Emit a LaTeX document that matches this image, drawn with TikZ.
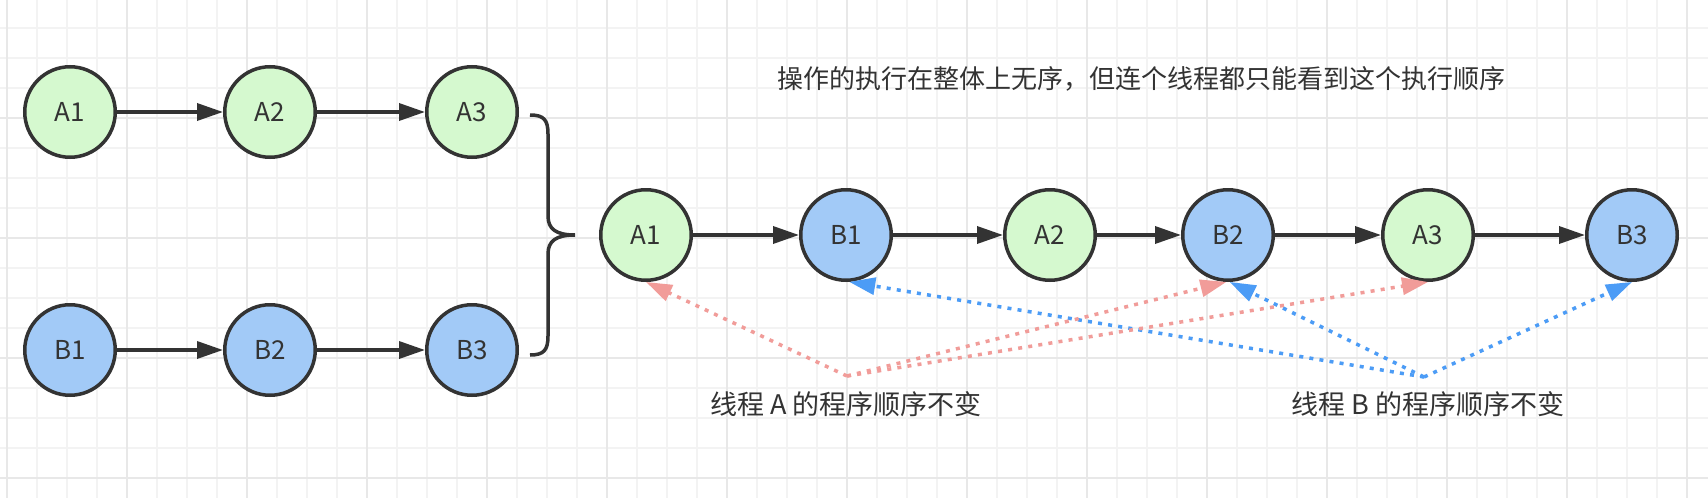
\documentclass[tikz,border=0pt]{standalone}
\usepackage{fontspec}
\setmainfont{Noto Sans CJK SC}
\usetikzlibrary{arrows.meta}
\definecolor{dark}{HTML}{333333}
\definecolor{gfill}{HTML}{D5F9CF}
\definecolor{bfill}{HTML}{A2CAF7}
\definecolor{pinkc}{HTML}{F19C99}
\definecolor{bluec}{HTML}{4C9CF6}
\definecolor{gridminor}{HTML}{F3F3F3}
\definecolor{gridmajor}{HTML}{E8E8E8}
\tikzset{
  cnode/.style={circle, draw=dark, line width=3.5pt, minimum size=90.5pt, inner sep=0pt,
    font=\fontsize{26}{30}\selectfont, text=dark},
  anode/.style={cnode, fill=gfill},
  bnode/.style={cnode, fill=bfill},
  flow/.style={draw=dark, line width=3.5pt, -{Triangle[length=26pt,width=17pt]}},
  pdot/.style={draw=pinkc, line width=3.5pt, dash pattern=on 4pt off 6.2pt,
    -{Triangle[length=26pt,width=17pt]}},
  bdot/.style={draw=bluec, line width=3.5pt, dash pattern=on 4pt off 6.2pt,
    -{Triangle[length=26pt,width=17pt]}},
  txtlabel/.style={font=\fontsize{27}{32}\selectfont, text=dark, inner sep=0pt},
  gminor/.style={draw=gridminor, line width=1.5pt},
  gmajor/.style={draw=gridmajor, line width=2pt},
}
\begin{document}
\begin{tikzpicture}[x=1pt,y=-1pt]
\useasboundingbox (0,0) rectangle (1708,498);
\fill[white] (0,0) rectangle (1708,498);
% grid
\foreach \x in {7,37,...,1707} \draw[gminor] (\x,0) -- (\x,498);
\foreach \y in {-2,28,...,498} \draw[gminor] (0,\y) -- (1708,\y);
\foreach \x in {7,127,...,1687} \draw[gmajor] (\x,0) -- (\x,498);
\foreach \y in {118,238,358,478} \draw[gmajor] (0,\y) -- (1708,\y);

% left nodes
\node[anode] (la1) at (70,112) {A1};
\node[anode] (la2) at (270,112) {A2};
\node[anode] (la3) at (472,112) {A3};
\node[bnode] (lb1) at (70,350) {B1};
\node[bnode] (lb2) at (270,350) {B2};
\node[bnode] (lb3) at (472,350) {B3};

\draw[flow] (la1) -- (la2);
\draw[flow] (la2) -- (la3);
\draw[flow] (lb1) -- (lb2);
\draw[flow] (lb2) -- (lb3);

% brace
\draw[dark, line width=3.5pt]
  (530,115) .. controls (544,115) and (548,120) .. (548,134) -- (548,216)
  .. controls (548,229) and (556,235) .. (575,235)
  .. controls (556,235) and (548,241) .. (548,254) -- (548,336)
  .. controls (548,350) and (544,355) .. (530,355);

% right nodes
\node[anode] (ra1) at (646,235) {A1};
\node[bnode] (rb1) at (846,235) {B1};
\node[anode] (ra2) at (1050,235) {A2};
\node[bnode] (rb2) at (1228,235) {B2};
\node[anode] (ra3) at (1428,235) {A3};
\node[bnode] (rb3) at (1632,235) {B3};

\draw[flow] (ra1) -- (rb1);
\draw[flow] (rb1) -- (ra2);
\draw[flow] (ra2) -- (rb2);
\draw[flow] (rb2) -- (ra3);
\draw[flow] (ra3) -- (rb3);

% labels
\node[txtlabel, font=\fontsize{26}{31}\selectfont] (title) at (1141,79) {操作的执行在整体上无序，但连个线程都只能看到这个执行顺序};
\node[txtlabel] (ta) at (846,404) {线程 A 的程序顺序不变};
\node[txtlabel] (tb) at (1428,404) {线程 B 的程序顺序不变};

\coordinate (pa) at (847,376);
\coordinate (pb) at (1424,377);

\draw[bdot] (pb) -- (rb1.-86);
\draw[bdot] (pb) -- (rb2.-88);
\draw[bdot] (pb) -- (rb3.south);
\draw[pdot] (pa) -- (ra1.south);
\draw[pdot] (pa) -- (rb2.-92);
\draw[pdot] (pa) -- (ra3.south);
\end{tikzpicture}
\end{document}
